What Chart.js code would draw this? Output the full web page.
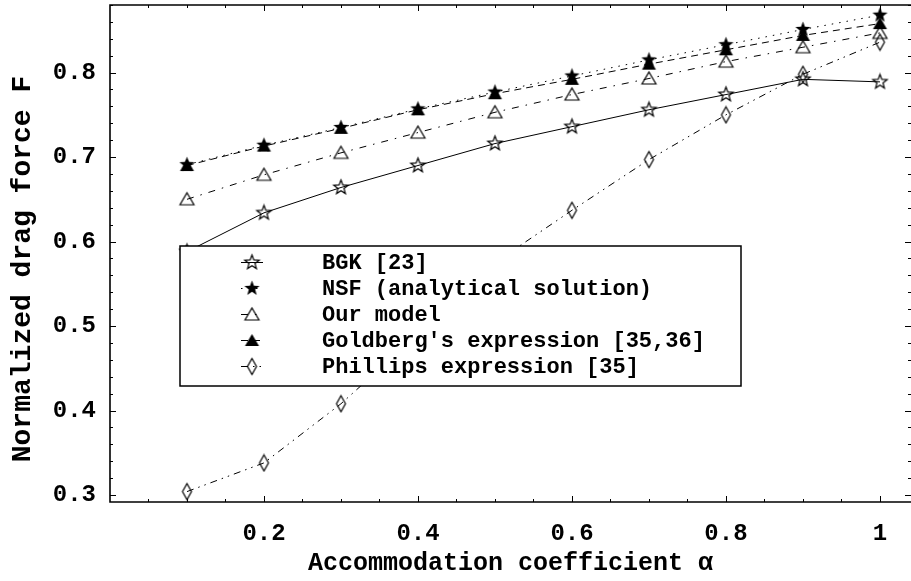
<!DOCTYPE html>
<html>
<head>
<meta charset="utf-8">
<script src="https://cdn.jsdelivr.net/npm/chart.js@4"></script>
<style>
  html, body { margin: 0; padding: 0; background: #fff; overflow: hidden; }
  canvas { display: block; }
</style>
</head>
<body>
<canvas id="chart" width="911" height="581"></canvas>
<script>
'use strict';

// ── Data ─────────────────────────────────────────────────────────
const alpha     = [0.1, 0.2, 0.3, 0.4, 0.5, 0.6, 0.7, 0.8, 0.9, 1.0];
const bgk       = [0.588, 0.634, 0.664, 0.690, 0.716, 0.736, 0.756, 0.774, 0.792, 0.789];
const nsf       = [0.691, 0.714, 0.735, 0.757, 0.777, 0.796, 0.815, 0.833, 0.851, 0.868];
const ourModel  = [0.650, 0.679, 0.705, 0.729, 0.753, 0.774, 0.793, 0.813, 0.830, 0.847];
const goldberg  = [0.690, 0.713, 0.734, 0.756, 0.775, 0.792, 0.810, 0.827, 0.844, 0.858];
const phillips  = [0.304, 0.338, 0.408, 0.490, 0.575, 0.637, 0.697, 0.750, 0.798, 0.836];

const seriesLabels = [
  'BGK [23]',
  'NSF (analytical solution)',
  'Our model',
  "Goldberg's expression [35,36]",
  'Phillips expression [35]',
];

const xTickValues = [0.2, 0.4, 0.6, 0.8, 1];
const yTickValues = [0.3, 0.4, 0.5, 0.6, 0.7, 0.8];

const MONO = '"Liberation Mono", "DejaVu Sans Mono", monospace';

// ── Markers ──────────────────────────────────────────────────────
function makeMarker(kind) {
  const c = document.createElement('canvas');
  c.width = 19; c.height = 19;
  const g = c.getContext('2d');
  g.translate(9.5, 9.5);
  g.strokeStyle = '#000';
  g.fillStyle = '#000';
  g.lineWidth = 1.2;
  g.beginPath();
  if (kind === 'star' || kind === 'starFilled') {
    const ro = kind === 'starFilled' ? 8 : 7.5;
    const ri = ro * 0.42;
    for (let i = 0; i < 10; i++) {
      const r = i % 2 ? ri : ro;
      const a = -Math.PI / 2 + i * Math.PI / 5;
      g.lineTo(r * Math.cos(a), r * Math.sin(a));
    }
  } else if (kind === 'tri' || kind === 'triFilled') {
    g.moveTo(0, -6.5);
    g.lineTo(7, 5.5);
    g.lineTo(-7, 5.5);
  } else {
    g.moveTo(0, -8);
    g.lineTo(4.5, 0);
    g.lineTo(0, 8);
    g.lineTo(-4.5, 0);
  }
  g.closePath();
  if (kind.endsWith('Filled')) g.fill(); else g.stroke();
  return c;
}

const markers = {
  star: makeMarker('star'),
  starFilled: makeMarker('starFilled'),
  tri: makeMarker('tri'),
  triFilled: makeMarker('triFilled'),
  diamond: makeMarker('diamond'),
};

function series(label, values, marker, dash) {
  return {
    label,
    data: alpha.map((a, i) => ({ x: a, y: values[i] })),
    borderColor: '#000',
    backgroundColor: '#000',
    borderWidth: 1,
    borderDash: dash,
    pointStyle: marker,
    pointRadius: 8,
    tension: 0,
    fill: false,
  };
}

function noPadding(s) {
  s.paddingTop = 0;
  s.paddingBottom = 0;
  s.paddingLeft = 0;
  s.paddingRight = 0;
}

// ── Plugins ──────────────────────────────────────────────────────
const framePlugin = {
  id: 'frame',
  afterDatasetsDraw(chart) {
    const { ctx, chartArea: a, scales: { x, y } } = chart;
    ctx.save();
    ctx.strokeStyle = '#000';
    ctx.lineWidth = 1.6;
    ctx.beginPath();
    ctx.moveTo(a.right, a.top);
    ctx.lineTo(a.left, a.top);
    ctx.lineTo(a.left, a.bottom);
    ctx.lineTo(a.right, a.bottom);
    ctx.stroke();

    ctx.lineWidth = 1;
    ctx.beginPath();
    for (let i = 1; i <= 20; i++) {
      const v = i * 0.05;
      const px = Math.round(x.getPixelForValue(v)) + 0.5;
      const len = i % 4 === 0 ? 6 : 3;
      ctx.moveTo(px, a.bottom); ctx.lineTo(px, a.bottom - len);
      ctx.moveTo(px, a.top); ctx.lineTo(px, a.top + len);
    }
    for (let i = 15; i <= 44; i++) {
      const v = i * 0.02;
      const py = Math.round(y.getPixelForValue(v)) + 0.5;
      const len = i % 5 === 0 ? 6 : 3;
      ctx.moveTo(a.left, py); ctx.lineTo(a.left + len, py);
      ctx.moveTo(a.right, py); ctx.lineTo(a.right - len, py);
    }
    ctx.stroke();

    // y axis title
    ctx.translate(23, 269);
    ctx.rotate(-Math.PI / 2);
    ctx.font = `bold 28px ${MONO}`;
    ctx.fillStyle = '#000';
    ctx.textAlign = 'center';
    ctx.textBaseline = 'middle';
    ctx.fillText('Normalized drag force F', 0, 0);
    ctx.restore();
  },
};

const legendPlugin = {
  id: 'boxLegend',
  afterDatasetsDraw(chart) {
    const { ctx } = chart;
    const box = { x: 180, y: 246, w: 561, h: 140 };
    ctx.save();
    ctx.fillStyle = '#fff';
    ctx.fillRect(box.x, box.y, box.w, box.h);
    ctx.strokeStyle = '#000';
    ctx.lineWidth = 1.5;
    ctx.strokeRect(box.x, box.y, box.w, box.h);

    ctx.font = `bold 22px ${MONO}`;
    ctx.textBaseline = 'middle';
    ctx.textAlign = 'left';
    chart.data.datasets.forEach((ds, i) => {
      const cy = 262 + i * 26;
      ctx.strokeStyle = '#000';
      ctx.lineWidth = 1;
      ctx.setLineDash(ds.borderDash || []);
      ctx.beginPath();
      ctx.moveTo(241, cy + 0.5);
      ctx.lineTo(263, cy + 0.5);
      ctx.stroke();
      ctx.setLineDash([]);
      const m = ds.pointStyle;
      ctx.drawImage(m, 252 - m.width / 2, cy - m.height / 2 + 0.5);
      ctx.fillStyle = '#000';
      ctx.fillText(ds.label, 322, cy + 1);
    });
    ctx.restore();
  },
};

// ── Chart ────────────────────────────────────────────────────────
const ctx = document.getElementById('chart').getContext('2d');
new Chart(ctx, {
  type: 'line',
  data: {
    datasets: [
      series(seriesLabels[0], bgk, markers.star, []),
      series(seriesLabels[1], nsf, markers.starFilled, [1.5, 6]),
      series(seriesLabels[2], ourModel, markers.tri, [7, 7, 1.5, 7]),
      series(seriesLabels[3], goldberg, markers.triFilled, [7, 5]),
      series(seriesLabels[4], phillips, markers.diamond, [7, 5, 1.5, 5, 1.5, 5]),
    ],
  },
  options: {
    responsive: false,
    animation: false,
    devicePixelRatio: 1,
    layout: { autoPadding: false, padding: { top: 5, right: 0, bottom: 0, left: 0 } },
    plugins: {
      legend: { display: false },
      tooltip: { enabled: false },
    },
    scales: {
      x: {
        type: 'linear',
        min: 0,
        max: 1.0403,
        grid: { display: false, drawTicks: false },
        border: { display: false },
        afterBuildTicks: (s) => { s.ticks = xTickValues.map((v) => ({ value: v })); },
        afterFit: (s) => { s.height = 79; noPadding(s); },
        ticks: {
          color: '#000',
          font: { family: MONO, size: 24, weight: 'bold' },
          padding: 18,
          maxRotation: 0,
          autoSkip: false,
          callback: (v) => (v === 1 ? '1' : Number(v).toFixed(1)),
        },
        title: {
          display: true,
          text: 'Accommodation coefficient α',
          color: '#000',
          font: { family: MONO, size: 25, weight: 'bold' },
          padding: { top: 0, bottom: 2 },
        },
      },
      y: {
        type: 'linear',
        min: 0.2917,
        max: 0.88,
        grid: { display: false, drawTicks: false },
        border: { display: false },
        afterBuildTicks: (s) => { s.ticks = yTickValues.map((v) => ({ value: v })); },
        afterFit: (s) => { s.width = 110; noPadding(s); },
        ticks: {
          color: '#000',
          font: { family: MONO, size: 24, weight: 'bold' },
          padding: 14,
          callback: (v) => Number(v).toFixed(1),
        },
      },
    },
  },
  plugins: [framePlugin, legendPlugin],
});
</script>
</body>
</html>
